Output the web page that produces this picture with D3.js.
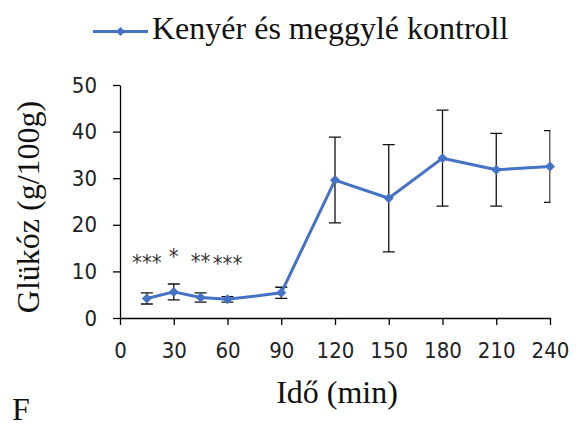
<!DOCTYPE html>
<html>
<head>
<meta charset="utf-8">
<script src="https://cdn.jsdelivr.net/npm/d3@7"></script>
<style>
  body { margin: 0; background: #fff; }
  svg { display: block; }
</style>
</head>
<body>
<svg id="chart" width="578" height="428"></svg>
<script>
// data
const times = [15, 30, 45, 60, 90, 120, 150, 180, 210, 240]
const glucose = [4.2, 5.6, 4.4, 4.0, 5.4, 29.6, 25.7, 34.3, 31.8, 32.5]
const errors = [1.2, 1.7, 1.0, 0.6, 1.2, 9.2, 11.5, 10.3, 7.8, 7.7]
const marks = ["***", "*", "**", "***", "", "", "", "", "", ""]
const xTicks = [0, 30, 60, 90, 120, 150, 180, 210, 240]
const yTicks = [0, 10, 20, 30, 40, 50]
const seriesName = "Kenyér és meggylé kontroll"

const blue = "#4472C4"
const serif = "Liberation Serif"
const sans = "DejaVu Sans Condensed"

const margin = { top: 85, right: 28, bottom: 110, left: 120 }
const width = 578
const height = 428

const svg = d3.select("#chart")

const x = d3.scaleLinear()
    .domain([0, 240])
    .range([margin.left, width - margin.right])

const y = d3.scaleLinear()
    .domain([0, 50])
    .range([height - margin.bottom, margin.top])

const data = times.map((t, i) => ({ t, v: glucose[i], e: errors[i], m: marks[i] }))

// error bars are cut at the right edge of the plot area
svg.append("defs").append("clipPath")
    .attr("id", "plot")
    .append("rect")
    .attr("x", margin.left)
    .attr("y", 0)
    .attr("width", x(240) - margin.left + 0.5)
    .attr("height", height)

// axes
const xAxis = g => g
    .attr("transform", `translate(0,${y(0)})`)
    .call(d3.axisBottom(x).tickValues(xTicks).tickSize(7).tickSizeOuter(0).tickPadding(17))

const yAxis = g => g
    .attr("transform", `translate(${x(0)},0)`)
    .call(d3.axisLeft(y).tickValues(yTicks).tickSize(7).tickSizeOuter(0).tickPadding(16))

svg.append("g").attr("class", "x-axis").call(xAxis)
svg.append("g").attr("class", "y-axis").call(yAxis)

svg.selectAll(".x-axis, .y-axis")
    .call(g => g.selectAll("path, line").attr("stroke", "#000").attr("stroke-width", 1.3))
    .call(g => g.selectAll("text").attr("font-family", sans).attr("font-size", 22).attr("fill", "#222"))

// error bars
const cap = 6
const bars = svg.append("g")
    .attr("class", "errors")
    .attr("clip-path", "url(#plot)")
    .attr("stroke", "#111")
    .attr("stroke-width", 1.3)
    .attr("fill", "none")

bars.selectAll("path")
    .data(data)
    .join("path")
    .attr("d", d => {
        const cx = x(d.t), top = y(d.v + d.e), bot = y(d.v - d.e)
        return `M${cx},${top}V${bot}M${cx - cap},${top}H${cx + cap}M${cx - cap},${bot}H${cx + cap}`
    })

// series line
const line = d3.line()
    .x(d => x(d.t))
    .y(d => y(d.v))

svg.append("path")
    .datum(data)
    .attr("fill", "none")
    .attr("stroke", blue)
    .attr("stroke-width", 3)
    .attr("stroke-linejoin", "round")
    .attr("d", line)

const diamond = (cx, cy, r) => `M${cx},${cy - r}L${cx + r},${cy}L${cx},${cy + r}L${cx - r},${cy}Z`

svg.append("g")
    .attr("fill", blue)
    .selectAll("path")
    .data(data)
    .join("path")
    .attr("d", d => diamond(x(d.t), y(d.v), 5))

// significance labels
svg.append("g")
    .selectAll("text")
    .data(data.filter(d => d.m))
    .join("text")
    .attr("x", d => x(d.t))
    .attr("y", d => y(d.v) - 28)
    .attr("text-anchor", "middle")
    .attr("font-family", sans)
    .attr("font-size", 22)
    .attr("fill", "#333")
    .text(d => d.m)

// legend
const legend = svg.append("g")
legend.append("line")
    .attr("x1", 93).attr("x2", 148)
    .attr("y1", 31.5).attr("y2", 31.5)
    .attr("stroke", blue)
    .attr("stroke-width", 3)
legend.append("path")
    .attr("d", diamond(120.5, 31.5, 4.5))
    .attr("fill", blue)
legend.append("text")
    .attr("x", 152)
    .attr("y", 38.5)
    .attr("font-family", serif)
    .attr("font-size", 32)
    .attr("fill", "#111")
    .text(seriesName)

// axis titles
svg.append("text")
    .attr("transform", "translate(38.5,207) rotate(-90)")
    .attr("text-anchor", "middle")
    .attr("font-family", serif)
    .attr("font-size", 32)
    .attr("fill", "#111")
    .text("Glükóz (g/100g)")

svg.append("text")
    .attr("x", 337)
    .attr("y", 403)
    .attr("text-anchor", "middle")
    .attr("font-family", serif)
    .attr("font-size", 32)
    .attr("fill", "#111")
    .text("Idő (min)")

svg.append("text")
    .attr("x", 12)
    .attr("y", 420)
    .attr("font-family", serif)
    .attr("font-size", 32)
    .attr("fill", "#111")
    .text("F")
</script>
</body>
</html>
